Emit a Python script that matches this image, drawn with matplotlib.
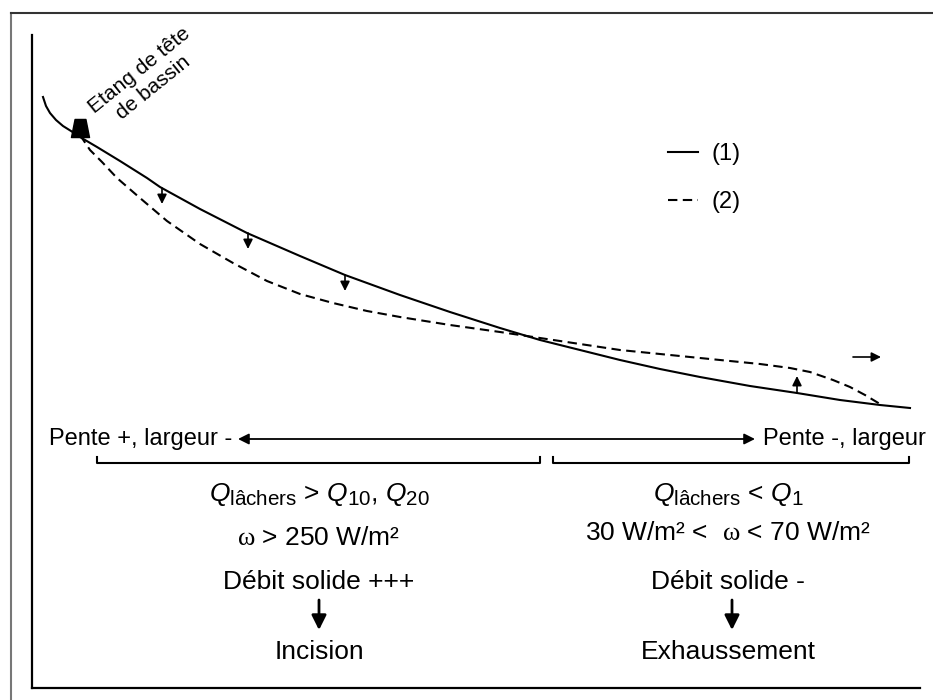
import matplotlib
matplotlib.use("Agg")
from matplotlib import pyplot as plt
from matplotlib.lines import Line2D
from matplotlib.path import Path
import matplotlib._mathtext as mt

plt.rcParams['font.family'] = ['Liberation Sans', 'DejaVu Sans']
plt.rcParams['mathtext.fontset'] = 'custom'
plt.rcParams['mathtext.rm'] = 'Liberation Sans'
plt.rcParams['mathtext.it'] = 'Liberation Sans:italic'
plt.rcParams['mathtext.sf'] = 'Liberation Serif'
mt.SHRINK_FACTOR = 0.78  # indices un peu plus grands

# profil en long (1) : etat initial
dist_1 = [11, 14, 18, 24, 31, 39, 48, 65, 88, 115, 128, 168, 215, 268, 313, 368, 418,
          468, 508, 548, 588, 628, 668, 718, 765, 808, 848, 878]
alt_1 = [591, 582, 575, 568, 562, 557, 551, 541, 527, 510, 501, 479, 455, 432, 413, 393, 376,
         360, 348, 338, 328, 319, 311, 302, 295, 288, 283, 280]

# profil en long (2) : apres lachers
dist_2 = [48, 58, 70, 85, 108, 135, 168, 201, 235, 268, 301, 335, 368, 418, 468, 508, 548,
          588, 628, 668, 728, 758, 778, 801, 818, 833, 848]
alt_2 = [553, 538, 526, 510, 490, 467, 444, 425, 407, 394, 385, 377, 371, 363, 356, 350, 344,
         338, 334, 330, 324, 320, 316, 308, 301, 293, 284]

etang_x, etang_y = 48, 560

# fleches d'incision (vers le bas) et d'exhaussement
incision_x = [130, 216, 313]
incision_y = [500, 455, 413]
exh_x, exh_y = 765, 295
avance_x, avance_y = 821, 331

fig = plt.figure(figsize=(9.33, 7), dpi=100)
ax = fig.add_axes([32 / 933, 12 / 700, 888 / 933, 653 / 700])
ax.set_xlim(0, 888)
ax.set_ylim(0, 653)
ax.set_xticks([])
ax.set_yticks([])
for s in ['top', 'right']:
    ax.spines[s].set_visible(False)
for s in ['left', 'bottom']:
    ax.spines[s].set_linewidth(1.6)

# cadre exterieur
fig.add_artist(Line2D([11 / 933, 11 / 933], [0, 1 - 13 / 700], color='#777777', lw=1.5))
fig.add_artist(Line2D([11 / 933, 1], [1 - 13 / 700, 1 - 13 / 700], color='#333333', lw=1.5))

l1, = ax.plot(dist_1, alt_1, color='black', lw=1.5, label='(1)')
l2, = ax.plot(dist_2, alt_2, color='black', lw=1.5, ls=(0, (4.5, 2.6)), label='(2)')

trap = Path([(-0.3, 0.5), (0.3, 0.5), (0.5, -0.5), (-0.5, -0.5), (-0.3, 0.5)],
            [Path.MOVETO, Path.LINETO, Path.LINETO, Path.LINETO, Path.CLOSEPOLY])
ax.plot([etang_x], [etang_y], marker=trap, markersize=13, color='black', zorder=5)
ax.text(114, 609, "Etang de tête\nde bassin", fontsize=15, rotation=39,
        ha='center', va='center', multialignment='center', rotation_mode='anchor',
        linespacing=1.2)

small = dict(arrowstyle='-|>', color='black', lw=1.2, mutation_scale=14,
             shrinkA=0, shrinkB=0)
for x, y in zip(incision_x, incision_y):
    ax.annotate('', xy=(x, y - 16), xytext=(x, y), arrowprops=small)
ax.annotate('', xy=(exh_x, exh_y + 17), xytext=(exh_x, exh_y), arrowprops=small)
ax.annotate('', xy=(avance_x + 28, avance_y), xytext=(avance_x, avance_y), arrowprops=small)

ax.legend(handles=[l1, l2], loc='center left', bbox_to_anchor=(668 / 933, 1 - 178 / 700),
          bbox_transform=fig.transFigure, frameon=False, fontsize=17, borderpad=0,
          borderaxespad=0, handlelength=1.25, handletextpad=0.6, labelspacing=1.1)

fs = 17
ax.text(17, 249, "Pente +, largeur -", fontsize=fs, ha='left', va='center', clip_on=False)
ax.text(731, 249, "Pente -, largeur", fontsize=fs, ha='left', va='center', clip_on=False)
ax.annotate('', xy=(206, 249), xytext=(723, 249),
            arrowprops=dict(arrowstyle='<|-|>', color='black', lw=1.3, mutation_scale=16,
                            shrinkA=0, shrinkB=0))

# accolades
ax.plot([65, 65, 508, 508], [231, 225, 225, 231], color='black', lw=1.5, clip_on=False)
ax.plot([521, 521, 877, 877], [231, 225, 225, 231], color='black', lw=1.5, clip_on=False)

big = dict(arrowstyle='-|>', color='black', lw=2, mutation_scale=22, shrinkA=0, shrinkB=0)
fb = 19

cx = 287
ax.text(cx, 193, r"$Q_{\mathrm{lâchers}}$ > $Q_{10}$, $Q_{20}$", fontsize=fb, ha='center', va='center')
ax.text(cx, 150, r"$\mathsf{ω}$ > 250 W/m²", fontsize=fb, ha='center', va='center')
ax.text(cx, 106, "Débit solide +++", fontsize=fb, ha='center', va='center')
ax.annotate('', xy=(cx, 58), xytext=(cx, 88), arrowprops=big)
ax.text(cx, 36, "Incision", fontsize=fb, ha='center', va='center')

cx = 696
ax.text(cx, 193, r"$Q_{\mathrm{lâchers}}$ < $Q_1$", fontsize=fb, ha='center', va='center')
ax.text(cx, 155, r"30 W/m² <  $\mathsf{ω}$ < 70 W/m²", fontsize=fb, ha='center', va='center')
ax.text(cx, 106, "Débit solide -", fontsize=fb, ha='center', va='center')
ax.annotate('', xy=(cx + 4, 58), xytext=(cx + 4, 88), arrowprops=big)
ax.text(cx, 36, "Exhaussement", fontsize=fb, ha='center', va='center')

fig.savefig("out.png", dpi=100)
